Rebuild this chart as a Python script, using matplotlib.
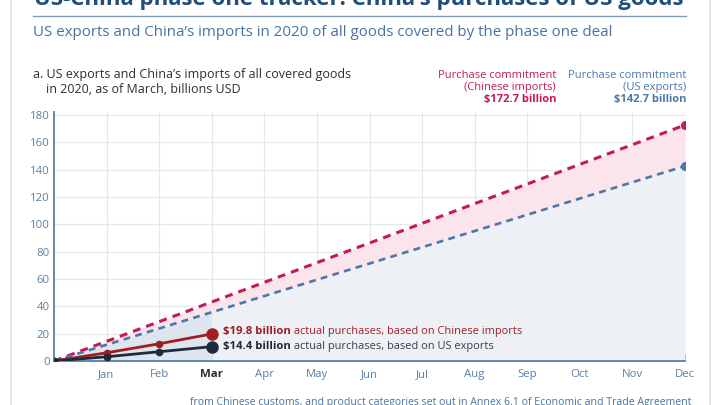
import matplotlib
matplotlib.use("Agg")
import matplotlib.pyplot as plt
import numpy as np

months = ["", "Jan", "Feb", "Mar", "Apr", "May", "Jun", "Jul", "Aug", "Sep", "Oct", "Nov", "Dec"]
commit_cn_total = 172.7
commit_us_total = 142.7
actual_cn = [0, 6.0, 12.6, 19.8]
actual_us = [0, 3.1, 6.8, 10.5]
yticks = [0, 20, 40, 60, 80, 100, 120, 140, 160, 180]

x_all = np.arange(len(months))
commit_cn = [commit_cn_total * i / 12 for i in x_all]
commit_us = [commit_us_total * i / 12 for i in x_all]
x_act = np.arange(len(actual_cn))

FONT = ["Open Sans", "DejaVu Sans"]
plt.rcParams['font.family'] = FONT

C_TITLE = "#1f4e79"
C_SUB = "#4a72a0"
C_AXIS = "#5b7fa6"
C_GRID = "#e3e9f1"
C_CN = "#c41a55"
C_US = "#4a78a8"
C_ACT_CN = "#a11d24"
C_ACT_US = "#1d2b3a"

fig = plt.figure(figsize=(7.2, 4.05), dpi=100)
fig.patch.set_facecolor("white")

ax = fig.add_axes([54/720, (405-361)/405, (685-54)/720, (361-112.3)/405])
ax.set_xlim(0, 12)
ax.set_ylim(0, 182)

# fills
ax.fill_between(x_all, commit_us, commit_cn, color="#fbe4eb", lw=0, zorder=1)
xa = x_all[:4]
ax.fill_between(xa, 0, [commit_us[i] for i in xa], color="#dfe5ee", lw=0, zorder=1)
xb = x_all[3:]
ax.fill_between(xb, 0, [commit_us[i] for i in xb], color="#edf0f5", lw=0, zorder=1)

# grid
for xv in x_all[1:]:
    ax.axvline(xv, color=C_GRID, lw=0.9, zorder=0.5)
for yv in yticks[1:]:
    ax.axhline(yv, color=C_GRID, lw=0.9, zorder=0.5)
ax.set_axisbelow(True)

# commitment lines
ax.plot(x_all, commit_cn, color=C_CN, lw=2.2, ls=(0, (2.6, 2.0)), zorder=3)
ax.plot(x_all, commit_us, color=C_US, lw=1.9, ls=(0, (2.6, 2.0)), zorder=3)
ax.plot([x_all[-1]], [commit_cn[-1]], 'o', color=C_CN, ms=5.5, zorder=4)
ax.plot([x_all[-1]], [commit_us[-1]], 'o', color=C_US, ms=5.5, zorder=4)

# actual lines
ax.plot(x_act, actual_cn, color=C_ACT_CN, lw=2.0, marker='o', ms=4.5, zorder=5)
ax.plot(x_act, actual_us, color=C_ACT_US, lw=2.0, marker='o', ms=4.5, zorder=5)
ax.plot([x_act[-1]], [actual_cn[-1]], 'o', color=C_ACT_CN, ms=8, zorder=6)
ax.plot([x_act[-1]], [actual_us[-1]], 'o', color=C_ACT_US, ms=8, zorder=6)

# annotations for actual
r = fig.canvas.get_renderer()
a1 = ax.annotate("$19.8 billion", (x_act[-1], actual_cn[-1]), xytext=(8, 1.5), textcoords="offset points",
                 ha="left", va="center", fontsize=8.2, fontweight="bold", color=C_ACT_CN, zorder=7)
fig.canvas.draw()
bb = a1.get_window_extent(r)
ax.annotate(" actual purchases, based on Chinese imports", (bb.x1, (bb.y0 + bb.y1) / 2),
            xycoords="figure pixels", ha="left", va="center", fontsize=7.9, color=C_ACT_CN, zorder=7)
a2 = ax.annotate("$14.4 billion", (x_act[-1], actual_us[-1]), xytext=(8, 0), textcoords="offset points",
                 ha="left", va="center", fontsize=8.2, fontweight="bold", color=C_ACT_US, zorder=7)
fig.canvas.draw()
bb2 = a2.get_window_extent(r)
ax.annotate(" actual purchases, based on US exports", (bb2.x1, (bb2.y0 + bb2.y1) / 2),
            xycoords="figure pixels", ha="left", va="center", fontsize=7.9, color="#33404d", zorder=7)

# axes styling
for s in ["top", "right"]:
    ax.spines[s].set_visible(False)
for s in ["left", "bottom"]:
    ax.spines[s].set_color(C_AXIS)
    ax.spines[s].set_linewidth(1.3)
ax.set_xticks(x_all[1:])
ax.set_xticklabels(months[1:])
ax.set_yticks(yticks)
ax.set_yticklabels([str(v) for v in yticks])
ax.tick_params(axis="x", direction="in", length=5, width=1.2, color=C_AXIS, labelcolor=C_AXIS,
               labelsize=8.2, pad=6)
ax.tick_params(axis="y", length=0, labelcolor=C_AXIS, labelsize=8.2, pad=3)
for lbl in ax.get_xticklabels():
    if lbl.get_text() == "Mar":
        lbl.set_fontweight("bold")
        lbl.set_color("#2a2f36")

# frame lines
fig.add_artist(plt.Line2D([11/720, 11/720], [0, 1], color="#dde3ea", lw=1.2))
fig.add_artist(plt.Line2D([710/720, 710/720], [0, 1], color="#dde3ea", lw=1.2))
fig.add_artist(plt.Line2D([33/720, 686/720], [1 - 16/405, 1 - 16/405], color="#7f9cbd", lw=1.0))

# titles
fig.text(359/720, 1 - 5/405, "US-China phase one tracker: China’s purchases of US goods",
         ha="center", va="baseline", fontsize=16, fontweight="bold", color=C_TITLE)
fig.text(33/720, 1 - 32/405, "US exports and China’s imports in 2020 of all goods covered by the phase one deal",
         ha="left", va="center", fontsize=10.9, color=C_SUB)
fig.text(33/720, 1 - 82/405, "a. US exports and China’s imports of all covered goods\n    in 2020, as of March, billions USD",
         ha="left", va="center", fontsize=9, color="#2a2f36", linespacing=1.15)

for xr, col, lines in [(556, C_CN, ["Purchase commitment", "(Chinese imports)", "$172.7 billion"]),
                       (686, C_US, ["Purchase commitment", "(US exports)", "$142.7 billion"])]:
    for i, (yy, txt) in enumerate(zip([76, 87.5, 99.5], lines)):
        fig.text(xr/720, 1 - yy/405, txt, ha="right", va="center", fontsize=8,
                 fontweight="bold" if i == 2 else "normal", color=col)

fig.text(441/720, 1 - 403/405, "from Chinese customs, and product categories set out in Annex 6.1 of Economic and Trade Agreement",
         ha="center", va="center", fontsize=7.6, color=C_SUB)

fig.savefig("out.png", dpi=100)
